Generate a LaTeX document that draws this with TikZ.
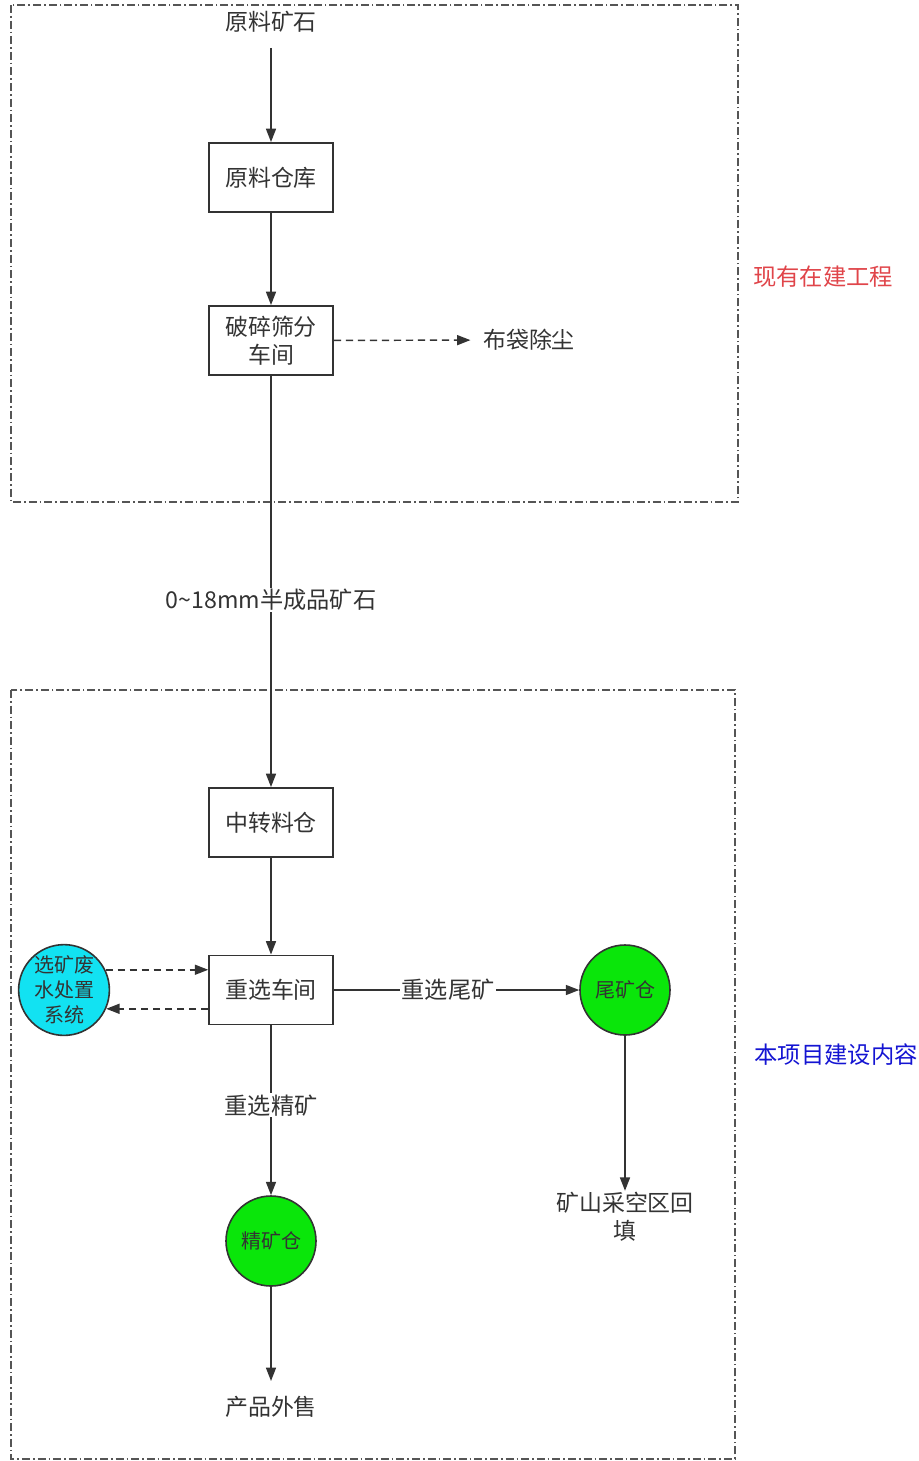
\documentclass[tikz,border=0pt]{standalone}
\usepackage{fontspec}
\setmainfont{Noto Sans CJK SC}
\usetikzlibrary{arrows.meta,calc}
\definecolor{ln}{HTML}{333333}
\definecolor{frm}{HTML}{555555}
\definecolor{cyanfill}{HTML}{12E2F2}
\definecolor{greenfill}{HTML}{0AE60A}
\definecolor{redtxt}{HTML}{E0454A}
\definecolor{bluetxt}{HTML}{1414D2}
\tikzset{
  frame/.style={draw=frm, line width=1.2pt, dash pattern=on 6pt off 2.2pt on 1.3pt off 2.2pt},
  box/.style={draw=ln, line width=1.2pt, fill=white, minimum width=93pt, minimum height=52pt, align=center, font=\fontsize{17.2}{21}\selectfont, text=ln},
  circ/.style={circle, draw=ln, line width=1.2pt, minimum size=67.5pt, inner sep=0pt, align=center, font=\fontsize{15}{18.75}\selectfont, text=ln},
  txt/.style={font=\fontsize{17.2}{21}\selectfont, text=ln, align=center},
  lbl/.style={font=\fontsize{17.4}{21}\selectfont, text=ln, fill=white, inner sep=1pt},
  arr/.style={draw=ln, line width=1.1pt, -{Triangle[length=10pt,width=7.5pt]}},
  darr/.style={arr, dash pattern=on 5.5pt off 3.5pt},
}
\begin{document}
\begin{tikzpicture}[x=0.75pt,y=-0.75pt]
\useasboundingbox (0,0) rectangle (919,1461);
% frames
\draw[frame] (11,5) rectangle (738,502);
\draw[frame] (11,690) rectangle (735,1459);
\node[font=\fontsize{17.5}{20}\selectfont, text=redtxt] (lblA) at (823,277) {现有在建工程};
\node[font=\fontsize{17.5}{20}\selectfont, text=bluetxt] (lblB) at (836,1055) {本项目建设内容};
% nodes
\node[txt] (raw) at (271,22) {原料矿石};
\node[box] (store) at (271,177.5) {原料仓库};
\node[box] (crush) at (271,340.5) {破碎筛分\\车间};
\node[txt] (dust) at (529,340) {布袋除尘};
\node[box] (transfer) at (271,822.5) {中转料仓};
\node[box] (grav) at (271,990) {重选车间};
\node[circ, fill=cyanfill] (water) at (64,990) {选矿废\\水处置\\系统};
\node[circ, fill=greenfill] (tail) at (625,990) {尾矿仓};
\node[circ, fill=greenfill] (conc) at (271,1241) {精矿仓};
\node[txt, inner sep=1pt] (fill) at (625,1217) {矿山采空区回\\填};
\node[txt] (sale) at (271,1407) {产品外售};
% connectors
\draw[arr, shorten <=8pt] (raw) -- (store);
\draw[arr] (store) -- (crush);
\draw[darr, shorten >=6pt] (crush) -- (dust);
\draw[arr] (crush) -- node[lbl, pos=0.545] {0\textasciitilde18mm半成品矿石} (transfer);
\draw[arr] (transfer) -- (grav);
\draw[darr] (water.26) -- (water.26 -| grav.west);
\draw[darr] (water.-24 -| grav.west) -- (water.-24);
\draw[arr] (grav) -- node[lbl, pos=0.466] {重选尾矿} (tail);
\draw[arr] (grav) -- node[lbl, pos=0.47] {重选精矿} (conc);
\draw[arr] (tail) -- (fill);
\draw[arr, shorten >=8pt] (conc) -- (sale);
\end{tikzpicture}
\end{document}
